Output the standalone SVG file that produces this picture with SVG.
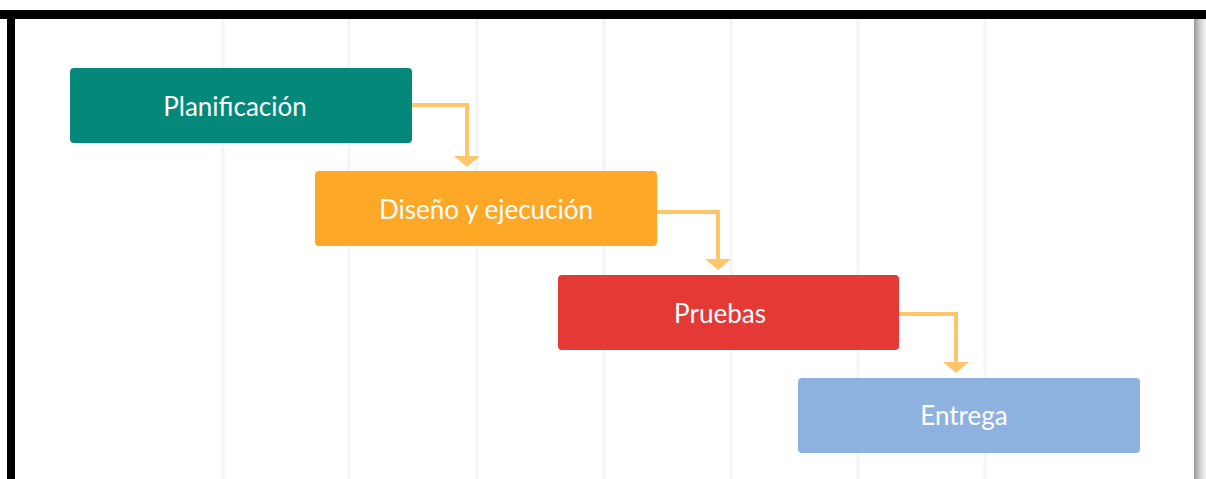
<svg xmlns="http://www.w3.org/2000/svg" width="1206" height="479" viewBox="0 0 1206 479">
<defs>
<linearGradient id="shadow" x1="0" y1="0" x2="1" y2="0">
<stop offset="0" stop-color="#9a9a9a"/>
<stop offset="0.5" stop-color="#d0d0d0"/>
<stop offset="1" stop-color="#f4f4f4"/>
</linearGradient>
<marker id="arr" viewBox="0 0 11 26" refX="2" refY="13" markerWidth="11" markerHeight="26" markerUnits="userSpaceOnUse" orient="auto">
<path d="M0,0 L11,13 L0,26 Z" fill="#FFC56B"/>
</marker>
</defs>
<style>
.grid{stroke:#f4f4f4;stroke-width:3}
.box{stroke:none}
.lbl{font-family:Lato,"Open Sans","Liberation Sans",sans-serif;font-size:26px;fill:#ffffff;text-anchor:middle;dominant-baseline:central}
.conn{fill:none;stroke:#FFC56B;stroke-width:4}
</style>
<rect x="0" y="0" width="1206" height="479" fill="#ffffff"/>
<rect x="1194" y="19" width="12" height="460" fill="url(#shadow)"/>
<g id="grid">
<line class="grid" x1="223" y1="19" x2="223" y2="479"/>
<line class="grid" x1="349" y1="19" x2="349" y2="479"/>
<line class="grid" x1="477" y1="19" x2="477" y2="479"/>
<line class="grid" x1="604" y1="19" x2="604" y2="479"/>
<line class="grid" x1="731" y1="19" x2="731" y2="479"/>
<line class="grid" x1="858" y1="19" x2="858" y2="479"/>
<line class="grid" x1="985" y1="19" x2="985" y2="479"/>
</g>
<rect x="0" y="10" width="1206" height="9" fill="#000000"/>
<rect x="7" y="10" width="8" height="469" fill="#000000"/>
<g id="connectors">
<path class="conn" d="M412,105 H467 V158" marker-end="url(#arr)"/>
<path class="conn" d="M657,212 H718 V261" marker-end="url(#arr)"/>
<path class="conn" d="M899,314 H956 V364" marker-end="url(#arr)"/>
</g>
<g id="planificacion">
<rect class="box" x="70" y="68" width="342" height="75" rx="4" fill="#03887A"/>
<text class="lbl" x="235" y="106">Planificación</text>
</g>
<g id="diseno">
<rect class="box" x="315" y="171" width="342" height="75" rx="4" fill="#FFA726"/>
<text class="lbl" x="486" y="209">Diseño y ejecución</text>
</g>
<g id="pruebas">
<rect class="box" x="558" y="275" width="341" height="75" rx="4" fill="#E53935"/>
<text class="lbl" x="720" y="313">Pruebas</text>
</g>
<g id="entrega">
<rect class="box" x="798" y="378" width="342" height="75" rx="4" fill="#8EB2DF"/>
<text class="lbl" x="964" y="415">Entrega</text>
</g>
</svg>
